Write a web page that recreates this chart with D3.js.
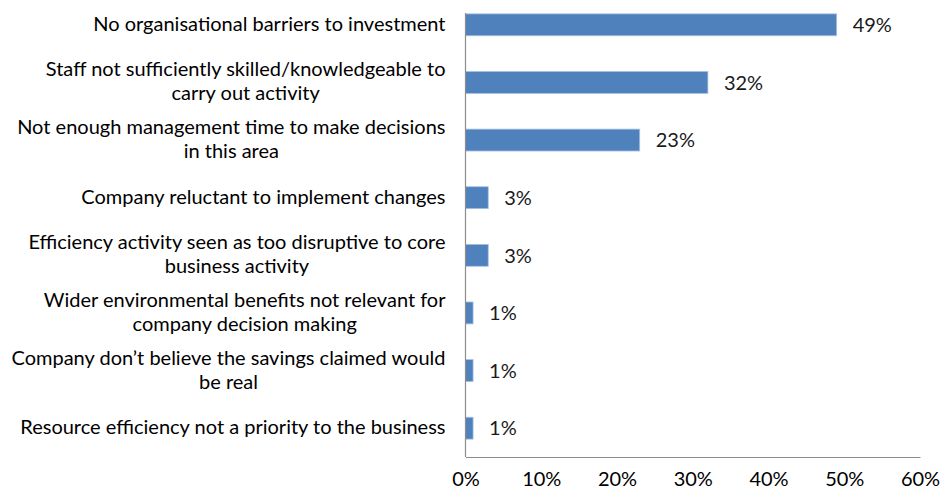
<!DOCTYPE html>
<html>
<head>
<meta charset="utf-8">
<script src="https://cdn.jsdelivr.net/npm/d3@7"></script>
<style>
  html, body { margin: 0; padding: 0; background: #fff; }
  svg { display: block; }
  text { font-family: Lato, "Open Sans", sans-serif; }
</style>
</head>
<body>
<svg id="chart" width="940" height="492"></svg>
<script>
// Barriers to investment in resource efficiency (share of respondents, %)
const categories = [
  "No organisational barriers to investment",
  "Staff not sufficiently skilled/knowledgeable to carry out activity",
  "Not enough management time to make decisions in this area",
  "Company reluctant to implement changes",
  "Efficiency activity seen as too disruptive to core business activity",
  "Wider environmental benefits not relevant for company decision making",
  "Company don\u2019t believe the savings claimed would be real",
  "Resource efficiency not a priority to the business"
];
// Each label wrapped onto its display lines
const labelLines = [
  ["No organisational barriers to investment"],
  ["Staff not sufficiently skilled/knowledgeable to", "carry out activity"],
  ["Not enough management time to make decisions", "in this area"],
  ["Company reluctant to implement changes"],
  ["Efficiency activity seen as too disruptive to core", "business activity"],
  ["Wider environmental benefits not relevant for", "company decision making"],
  ["Company don\u2019t believe the savings claimed would", "be real"],
  ["Resource efficiency not a priority to the business"]
];
const values = [49, 32, 23, 3, 3, 1, 1, 1];
const xTicks = [0, 10, 20, 30, 40, 50, 60];

const svg = d3.select("#chart");
const fontSize = 20;

const x = d3.scaleLinear().domain([0, 60]).range([465.5, 920]);
const y = d3.scaleBand().domain(categories).range([-4, 457])
  .paddingInner(0.62).paddingOuter(0.31);

const axisColor = "#8c8c8c";
const plotTop = 13, plotBottom = 457;

// Bars
svg.append("g").selectAll("rect")
  .data(categories)
  .join("rect")
  .attr("x", x(0))
  .attr("y", d => y(d))
  .attr("width", (d, i) => x(values[i]) - x(0))
  .attr("height", y.bandwidth())
  .attr("fill", "#4f81bd")
  .attr("stroke", "#a9c1e0")
  .attr("stroke-width", 0.8);

// Value labels
svg.append("g").selectAll("text")
  .data(categories)
  .join("text")
  .attr("x", (d, i) => x(values[i]) + 16)
  .attr("y", d => y(d) + y.bandwidth() / 2)
  .attr("dy", "0.36em")
  .attr("font-size", fontSize)
  .attr("fill", "#1a1a1a")
  .text((d, i) => values[i] + "%");

// Category axis (left): each wrapped label is a centred block, right-aligned to the axis
const yAxis = svg.append("g")
  .attr("transform", `translate(${x(0)},0)`)
  .call(d3.axisLeft(y).tickSize(0).tickPadding(20));
yAxis.select(".domain").remove();
yAxis.selectAll(".tick text").each(function(d) {
  const i = categories.indexOf(d);
  const lines = labelLines[i];
  const t = d3.select(this)
    .attr("font-size", fontSize)
    .attr("fill", "#000")
    .attr("font-family", null)
    .attr("dy", null)
    .attr("y", null)
    .text(null);
  const lh = 24;
  const first = lines.length === 1 ? 6 : -6;
  const spans = lines.map((ln, k) => t.append("tspan")
    .attr("y", first + k * lh)
    .text(ln));
  const widths = spans.map(s => s.node().getComputedTextLength());
  const maxW = d3.max(widths);
  const mid = -20 - maxW / 2;
  t.attr("text-anchor", "middle");
  spans.forEach(s => s.attr("x", mid));
});
svg.append("line")
  .attr("x1", x(0)).attr("x2", x(0))
  .attr("y1", plotTop).attr("y2", plotBottom)
  .attr("stroke", axisColor).attr("stroke-width", 1.2);

// Value axis (bottom)
const xAxis = svg.append("g")
  .attr("transform", `translate(0,${plotBottom})`)
  .call(d3.axisBottom(x).tickValues(xTicks).tickSize(0).tickPadding(0)
    .tickFormat(d => d + "%"));
xAxis.select(".domain").attr("stroke", axisColor).attr("stroke-width", 1.2);
xAxis.selectAll(".tick text")
  .attr("font-size", fontSize)
  .attr("font-family", null)
  .attr("fill", "#000")
  .attr("dy", null)
  .attr("y", 29);
</script>
</body>
</html>
